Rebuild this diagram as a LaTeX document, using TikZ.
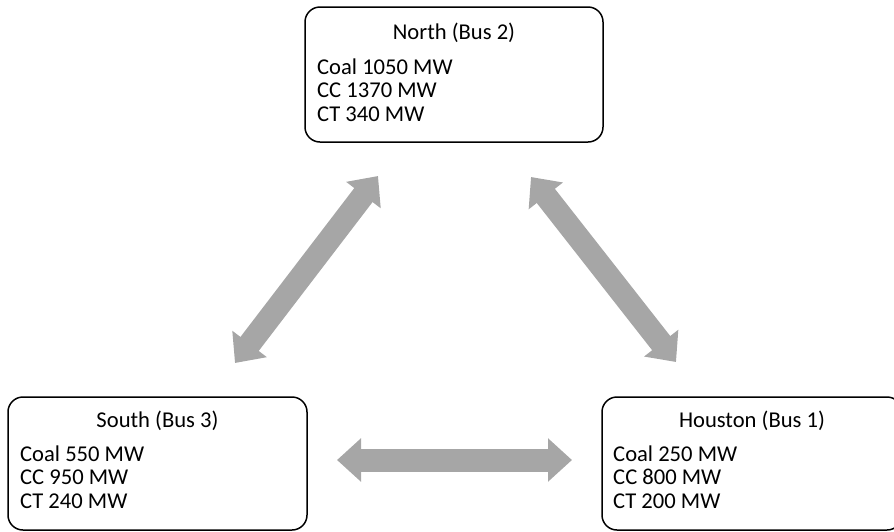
\documentclass[tikz,border=0pt]{standalone}
\usepackage{fontspec}
\setmainfont{Carlito}
\usetikzlibrary{arrows.meta}
\definecolor{arrowgray}{HTML}{A6A6A6}
\tikzset{
  busbox/.style={draw=black, line width=1.5pt, rounded corners=15pt, inner sep=0pt},
  title/.style={anchor=base, inner sep=0pt, font=\fontsize{22.6}{24}\selectfont},
  line/.style={anchor=base west, inner sep=0pt, font=\fontsize{22.6}{24}\selectfont},
  link/.style={draw=arrowgray, line width=23pt,
    {Triangle[width=42pt,length=24pt]}-{Triangle[width=42pt,length=24pt]}}
}
\begin{document}
\begin{tikzpicture}[x=1pt,y=-1pt]
\useasboundingbox (0,0) rectangle (894,531);
\clip (0,0) rectangle (894,531);
% boxes
\node[busbox, minimum width=298pt, minimum height=135pt] (north) at (454,74.5) {};
\node[busbox, minimum width=299pt, minimum height=133pt] (south) at (157.5,463.5) {};
\node[busbox, minimum width=300pt, minimum height=133pt] (houston) at (752,463.5) {};
% North text
\node[title] (nt) at (454,39) {North (Bus 2)};
\node[line] (n1) at (317,74) {Coal 1050 MW};
\node[line] (n2) at (317,97.5) {CC 1370 MW};
\node[line] (n3) at (317,121) {CT 340 MW};
% South text
\node[title] (st) at (157.5,427) {South (Bus 3)};
\node[line] (s1) at (20,461) {Coal 550 MW};
\node[line] (s2) at (20,484.5) {CC 950 MW};
\node[line] (s3) at (20,508) {CT 240 MW};
% Houston text
\node[title] (ht) at (752,427) {Houston (Bus 1)};
\node[line] (h1) at (613,461) {Coal 250 MW};
\node[line] (h2) at (613,484.5) {CC 800 MW};
\node[line] (h3) at (613,508) {CT 200 MW};
% arrow end points
\coordinate (sn1) at (235,363);
\coordinate (sn2) at (378,176);
\coordinate (nh1) at (531,177);
\coordinate (nh2) at (676,362);
\coordinate (sh1) at (337,460);
\coordinate (sh2) at (572,460);
\draw[link] (sn1) -- (sn2);
\draw[link] (nh1) -- (nh2);
\draw[link] (sh1) -- (sh2);
\end{tikzpicture}
\end{document}
